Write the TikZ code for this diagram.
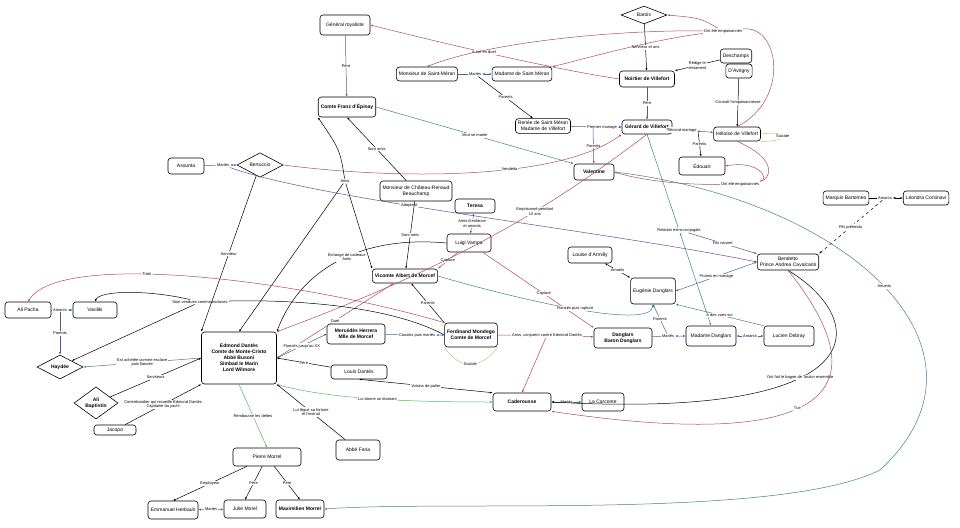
\documentclass[tikz,border=0pt]{standalone}
\usepackage{fontspec}
\setmainfont{Liberation Sans}
\usetikzlibrary{shapes.geometric,arrows.meta}
\definecolor{cr}{HTML}{B04A5A}
\definecolor{ct}{HTML}{3D8090}
\definecolor{cb}{HTML}{3A6AA0}
\definecolor{cp}{HTML}{6A4A9A}
\definecolor{cg}{HTML}{5CB85C}
\definecolor{cy}{HTML}{B8C870}
\begin{document}
\begin{tikzpicture}[x=1pt,y=-1pt,
 nd/.style={draw,rounded corners=3pt,fill=white,font=\fontsize{5}{6}\selectfont,align=center,inner sep=2.5pt,minimum height=14pt,line width=0.6pt},
 bd/.style={nd,font=\fontsize{5}{6}\bfseries\selectfont},
 dm/.style={draw,diamond,fill=white,font=\fontsize{5}{6}\selectfont,align=center,inner sep=0pt,line width=0.6pt,minimum width=46pt,minimum height=20pt},
 lbl/.style={fill=white,font=\fontsize{4}{4.6}\selectfont,align=center,inner sep=0.8pt},
 e/.style={-{Latex[length=2.5pt,width=2pt]},line width=0.5pt},
 ee/.style={{Latex[length=2.5pt,width=2pt]}-{Latex[length=2.5pt,width=2pt]},line width=0.5pt},
 l/.style={line width=0.5pt}]
\useasboundingbox (0,0) rectangle (960,527);
% nodes
\node[nd,minimum width=50pt,minimum height=20pt] (gen) at (345,25) {Général royaliste};
\node[dm,minimum height=16pt] (bar) at (644,15) {Barois};
\node[nd] (msm) at (427,74) {Monsieur de Saint-Méran};
\node[nd] (msm2) at (522,74) {Madame de Saint Méran};
\node[bd,minimum width=55pt,minimum height=16pt] (noi) at (647,79) {Noirtier de Villefort};
\node[nd] (des) at (736,56) {Deschamps};
\node[nd] (avr) at (739,71) {D'Avrigny};
\node[bd,minimum width=55pt,minimum height=20pt] (fra) at (347,107) {Comte Franz d'Épinay};
\node[nd] (ren) at (543,126) {Renée de Saint Méran\\Madame de Villefort};
\node[bd,minimum width=50pt] (ger) at (647,127) {Gérard de Villefort};
\node[nd] (hel) at (737,134) {Héloïse de Villefort};
\node[bd,minimum width=40pt,minimum height=16pt] (val) at (594,172) {Valentine};
\node[nd,minimum width=46pt,minimum height=18pt] (edo) at (702,166) {Édouart};
\node[nd,minimum width=36pt,minimum height=16pt] (ass) at (186,166) {Assunta};
\node[dm,minimum height=22pt] (ber) at (260,165) {Bertuccio};
\node[nd,minimum width=72pt,minimum height=20pt] (cha) at (416,191) {Monsieur de Château-Renaud\\Beauchamp};
\node[bd,minimum width=40pt] (ter) at (475,206) {Teresa};
\node[nd,minimum width=44pt,minimum height=18pt] (lui) at (469,243) {Luigi Vampa};
\node[bd,minimum width=60pt] (alb) at (405,276) {Vicomte Albert de Morcef};
\node[nd] (mar) at (846,198) {Marquis Bartomeo};
\node[nd] (leo) at (926,198) {Léondra Corsinavi};
\node[nd,minimum width=44pt,minimum height=16pt] (lou) at (590,255) {Louise d'Armilly};
\node[nd,minimum width=60pt,minimum height=16pt] (ben) at (788,262) {Bendetto\\Prince Andrea Cavalcanti};
\node[nd,minimum width=44pt,minimum height=26pt] (eug) at (653,291) {Eugénie Danglars};
\node[bd,minimum width=58pt,minimum height=20pt] (dan) at (623,338) {Danglars\\Baron Danglars};
\node[nd,minimum width=50pt,minimum height=20pt] (mda) at (711,336) {Madame Danglars};
\node[nd,minimum width=50pt,minimum height=20pt] (luc) at (789,336) {Lucien Debray};
\node[nd,minimum width=46pt,minimum height=16pt] (ali) at (28,310) {Ali Pacha};
\node[nd,minimum width=44pt,minimum height=16pt] (vas) at (95,310) {Vasiliki};
\node[dm,minimum height=24pt,font=\fontsize{5}{6}\bfseries\selectfont] (hay) at (60,367) {Haydée};
\node[bd,minimum width=75pt,minimum height=52pt] (edm) at (239,358) {Edmond Dantès\\Comte de Monte-Cristo\\Abbé Busoni\\Simbad le Marin\\Lord Wilmore};
\node[bd,minimum width=58pt,minimum height=20pt] (mer) at (356,334) {Mercédès Herrera\\Mlle de Morcef};
\node[bd,minimum width=52pt,minimum height=24pt] (fer) at (471,335) {Ferdinand Mondego\\Comte de Morcef};
\node[nd,minimum width=56pt] (lod) at (359,372) {Louis Dantès};
\node[bd,minimum width=58pt,minimum height=18pt] (cad) at (522,402) {Caderousse};
\node[nd,minimum width=42pt,minimum height=18pt] (car) at (603,402) {La Carconte};
\node[dm,minimum width=44pt,minimum height=32pt,font=\fontsize{5}{6}\bfseries\selectfont] (bap) at (96,403) {Ali\\Baptistin};
\node[nd,minimum width=42pt,minimum height=10pt] (jac) at (115,430) {Jacopo};
\node[nd,minimum width=44pt,minimum height=20pt] (fari) at (358,450) {Abbé Faria};
\node[nd,minimum width=68pt,minimum height=18pt] (pie) at (267,457) {Pierre Morrel};
\node[nd,minimum width=50pt,minimum height=18pt] (emm) at (173,510) {Emmanuel Herbault};
\node[nd,minimum width=42pt,minimum height=18pt] (jul) at (245,509) {Julie Morel};
\node[bd,minimum width=48pt,minimum height=18pt] (max) at (300,509) {Maximilien Morrel};
% junction labels
\node[lbl] (emp1) at (723,31) {Ont été empoisonnés};
\node[lbl] (emp2) at (740,184) {Ont été empoisonnés};
\node[lbl] (mar1) at (475,74) {Mariés};
\node[lbl] (pm) at (602,127) {Premier mariage};
\node[lbl] (sm) at (682,130) {Second mariage};
\node[lbl] (amis) at (345,181) {Amis};
\node[lbl] (mar2) at (223,165) {Mariés};
\node[lbl] (rel) at (679,230) {Relation extra-conjugale};
\node[lbl] (am1) at (60,310) {Amants};
\node[lbl] (vend) at (200,302) {Sont vendues comme esclaves};
\node[lbl] (cons) at (547,335) {Amis, conjurent contre Edmond Dantès};
\node[lbl] (mar3) at (668,336) {Mariés};
\node[lbl] (am2) at (885,198) {Amants};
\node[lbl] (cou) at (417,335) {Cousins puis mariés};
% edges
\draw[e,cp] (gen) -- node[lbl,text=black]{Père} (fra);
\draw[e,cr] (noi.west) .. controls (560,70) and (470,50) .. node[lbl,text=black,pos=0.6]{A tué en duel} (gen.east);
\draw[e] (bar) -- node[lbl,pos=0.5]{Serviteur et ami} (noi);
\draw[e,cr] (emp1) .. controls (700,18) .. (bar.east);
\draw[e,cr] (emp1) .. controls (600,30) and (480,45) .. (msm.north);
\draw[e,cr] (emp1) .. controls (650,40) and (580,60) .. (msm2.north east);
\draw[l,cr] (hel.north) .. controls (790,100) and (780,25) .. (emp1);
\draw[ee,cb] (msm) -- (mar1) -- (msm2);
\draw[e] (mar1) -- node[lbl]{Parents} (ren);
\draw[e] (des) -- node[lbl]{Rédige le\\testament} (noi.north east);
\draw[e] (avr) -- node[lbl]{Connaît l'empoisonneuse} (hel);
\draw[e,cp] (noi) -- node[lbl,text=black]{Père} (ger);
\draw[ee,cb] (ren) -- (pm) -- (ger);
\draw[e,cp] (593,128) -- node[lbl,text=black]{Parents} (val);
\draw[ee,cb] (ger) -- (sm) -- (hel);
\draw[e] (698,131) -- node[lbl]{Parents} (edo);
\draw[l,cy] (hel.east) .. controls (790,130) and (790,142) .. node[lbl,text=black,pos=0.5]{Suicide} (hel.south east);
\draw[l,cr] (hel.south) .. controls (780,160) and (770,180) .. (emp2);
\draw[e,cr] (emp2) .. controls (770,180) and (760,160) .. (edo.east);
\draw[e,cr] (emp2) .. controls (680,185) and (640,180) .. (val.east);
\draw[e,ct] (fra.east) -- node[lbl,text=black]{Veut se marier} (val.north west);
\draw[e,cr] (ber.east) .. controls (400,180) and (560,180) .. node[lbl,text=black,pos=0.6]{Vendetta} (ger.south west);
\draw[ee,cb] (ass) -- (mar2) -- (ber);
\draw[e,cp] (mar2) .. controls (320,200) and (600,230) .. node[lbl,text=black,pos=0.4]{Adoptent} (ben.west);
\draw[ee,ct] (ger.south) -- (rel) -- (mda.north);
\draw[e,cp] (rel) -- node[lbl,text=black]{Fils naturel} (ben.north west);
\draw[e] (ber) -- node[lbl]{Serviteur} (edm.north west);
\draw[e] (cha) -- node[lbl]{Sont amis} (fra.south);
\draw[e] (cha) -- node[lbl]{Sont amis} (alb);
\draw[e] (amis) .. controls (340,150) .. (fra.south west);
\draw[e] (amis) -- (edm.north);
\draw[e] (amis) -- (alb.north west);
\draw[ee,cb] (ter) -- node[lbl,text=black]{Amis d'enfance\\et amants} (lui);
\draw[e] (lui.west) .. controls (360,235) and (300,270) .. node[lbl,pos=0.45]{Échange de cadeaux\\Amis} (edm.north east);
\draw[e,cr] (lui) -- node[lbl,text=black]{Capture} (alb.north east);
\draw[e,cr] (lui) -- node[lbl,text=black,pos=0.55]{Capture} (dan.north west);
\draw[e] (fer.north west) -- node[lbl]{Parents} (alb);
\draw[ee,cr] (alb) -- node[lbl,text=black]{Duel} (edm.east);
\draw[e,cr] (ger.south) .. controls (560,200) and (470,260) .. node[lbl,text=black,pos=0.4]{Emprisonné pendant\\14 ans} (edm.north east);
\draw[e,ct] (alb.east) .. controls (520,300) and (650,330) .. node[lbl,text=black,pos=0.5]{Fiancés puis rupture} (eug.south);
\draw[e,cr] (fer.north west) .. controls (300,280) and (60,250) .. node[lbl,text=black,pos=0.6]{Trahi} (ali.north);
\draw[l] (fer.west) .. controls (380,300) and (260,300) .. (vend);
\draw[e] (vend) .. controls (150,290) and (100,290) .. (vas.north);
\draw[e] (vend) -- (hay.north east);
\draw[ee,cb] (ali) -- (am1) -- (vas);
\draw[e,cp] (am1) -- node[lbl,text=black]{Parents} (hay.north);
\draw[e,ct] (edm.west) -- node[lbl,text=black]{Est achetée comme esclave\\puis fiancée} (hay.east);
\draw[e] (bap) -- node[lbl]{Serviteurs} (edm.west);
\draw[e] (jac) -- node[lbl]{Contrebandier qui recueille Edmond Dantès\\Capitaine du yacht} (edm.south west);
\draw[e,cb] (edm.east) -- node[lbl,text=black]{Fiancés jusqu'au XX} (mer.west);
\draw[ee,cb] (mer) -- (cou) -- (fer);
\draw[e,cr] (fer) -- (cons) -- (dan);
\draw[e,cr] (cons) -- (cad.north);
\draw[l,cy] (fer.south west) .. controls (460,370) and (480,370) .. node[lbl,text=black]{Suicide} (fer.south east);
\draw[e] (lod) -- node[lbl]{Père} (edm.east);
\draw[ee] (lod.south) -- node[lbl]{Voisins de palier} (cad.north west);
\draw[e,cg] (edm.south east) .. controls (330,400) and (420,402) .. node[lbl,text=black]{Lui donne un diamant} (cad.west);
\draw[ee,cb] (cad) -- node[lbl,text=black]{Mariés} (car);
\draw[e] (ben.south) .. controls (870,320) and (880,420) .. node[lbl,pos=0.6]{Ont fait le bagne de Toulon ensemble} (cad.east);
\draw[e,cr] (ben.south) .. controls (860,360) and (880,460) .. node[lbl,text=black,pos=0.6]{Tue} (cad.south east);
\draw[ee,cb] (ben.west) -- node[lbl,text=black]{Promis en mariage} (eug.east);
\draw[ee] (lou) -- node[lbl]{Amants} (eug.north west);
\draw[ee,cb] (dan) -- (mar3) -- (mda);
\draw[e,cb] (mar3) -- node[lbl,text=black]{Parents} (eug.south);
\draw[ee,cb] (mda) -- node[lbl,text=black]{Amants} (luc);
\draw[e,ct] (luc.north west) -- node[lbl,text=black]{A des vues sur} (eug.south east);
\draw[ee] (mar) -- (am2) -- (leo);
\draw[e,dashed] (am2) -- node[lbl]{Fils prétendu} (ben.north east);
\draw[e,ct] (val.east) .. controls (850,200) and (1010,350) .. node[lbl,text=black,pos=0.5]{Amants} (880,470) .. controls (780,520) and (450,500) .. (max.east);
\draw[e,cg] (edm.south) -- node[lbl,text=black]{Rembourse les dettes} (pie.north);
\draw[e] (fari) -- node[lbl]{Lui lègue sa fortune\\et l'instruit} (edm.south east);
\draw[e] (pie) -- node[lbl]{Employeur} (emm.north);
\draw[e] (pie) -- node[lbl]{Père} (jul.north);
\draw[e] (pie) -- node[lbl]{Père} (max.north);
\draw[ee,cb] (emm) -- node[lbl,text=black]{Mariés} (jul);
\end{tikzpicture}
\end{document}
